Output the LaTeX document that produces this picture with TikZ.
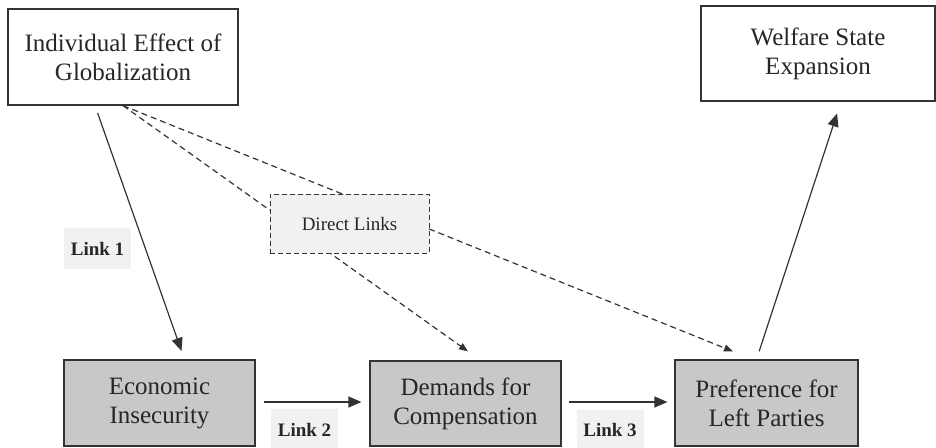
\documentclass[tikz,border=0pt]{standalone}
\usepackage{fontspec}
\setmainfont{Liberation Serif}
\usepackage{tikz}
\usetikzlibrary{arrows.meta}
\definecolor{boxline}{HTML}{333333}
\definecolor{boxgray}{HTML}{C8C8C8}
\definecolor{labelbg}{HTML}{F0F1F3}
\newcommand{\boxfont}{\fontsize{25}{29}\selectfont}
\newcommand{\labelfont}{\fontsize{19}{22}\selectfont}
\tikzstyle{factor}=[draw=boxline, line width=1.2pt, inner sep=0, align=center, text=black!85, font=\boxfont]
\tikzstyle{outcome}=[factor, fill=white]
\tikzstyle{mediator}=[factor, fill=boxgray]
\tikzstyle{linklabel}=[fill=labelbg, inner sep=0, minimum width=67pt, minimum height=41pt, font=\labelfont\bfseries, text=black!85]
\tikzstyle{directbox}=[draw=boxline, line width=1pt, dash pattern=on 5pt off 3pt, fill=labelbg, inner sep=0,
                       minimum width=159pt, minimum height=59pt, font=\labelfont, text=black!85]
\tikzstyle{causal}=[draw=boxline, line width=1.2pt, -{Triangle[length=13pt,width=11pt]}]
\tikzstyle{direct}=[draw=boxline, line width=1.2pt, dash pattern=on 6pt off 4pt, -{Triangle[length=9pt,width=7pt]}]
\tikzstyle{pathdiagram}=[x=1pt, y=-1pt,
                         % Keep the canvas the size of the figure.
                         execute at begin picture={\useasboundingbox (0,0) rectangle (936,447);}]

\begin{document}
\begin{tikzpicture}[pathdiagram]
        \node[outcome, minimum width=230pt, minimum height=96pt] (glob) at (123, 57) {Individual Effect of\\Globalization};
        \node[outcome, minimum width=234pt, minimum height=95pt] (welfare) at (818, 53.5) {Welfare State\\Expansion};
        \node[mediator, minimum width=191pt, minimum height=86pt] (insec) at (159.5, 403) {Economic\\Insecurity};
        \node[mediator, minimum width=191pt, minimum height=85pt] (demand) at (465.5, 403.5) {Demands for\\Compensation};
        \node[mediator, minimum width=183pt, minimum height=86pt] (pref) at (766.5, 403) {Preference for\\Left Parties};
        % Direct links pass behind the label box.
        \draw[direct] (glob.south) -- ([xshift=2.5pt, yshift=9pt]demand.north);
        \draw[direct] (glob.south) -- ([xshift=-33.5pt, yshift=8pt]pref.north);
        \node[directbox] (direct) at (349.5, 223.5) {Direct Links};
        % Causal chain.
        \draw[causal, shorten <=8pt, shorten >=9pt] ([xshift=-28pt]glob.south) -- ([xshift=25pt]insec.north);
        \draw[causal, shorten <=8pt, shorten >=8pt] (insec.east) ++(0, -1) coordinate (l2s) -- (l2s -| demand.west);
        \draw[causal, shorten <=7pt, shorten >=7pt] (demand.east) ++(0, -1.5) coordinate (l3s) -- (l3s -| pref.west);
        \draw[causal, shorten <=8.5pt, shorten >=12.5pt] ([xshift=-10pt]pref.north) -- ([xshift=23pt]welfare.south);
        \node[linklabel] (link1) at (97.5, 248.5) {Link 1};
        \node[linklabel] (link2) at (304.5, 429.5) {Link 2};
        \node[linklabel] (link3) at (610, 430) {Link 3};
    \end{tikzpicture}
\end{document}
